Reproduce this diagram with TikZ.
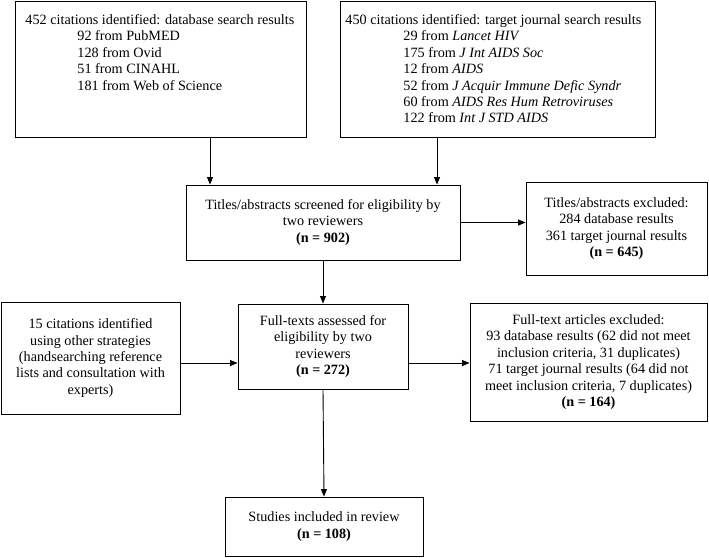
\documentclass[tikz,border=0pt]{standalone}
\usepackage{fontspec}
\setmainfont{Liberation Serif}
\usetikzlibrary{arrows.meta,positioning}

\begin{document}
\begin{tikzpicture}
        [x=1pt,y=1pt,line width=0.9pt,>={Triangle[length=7.5pt,width=6pt]}]
        \tikzstyle{every node}=[font=\fontsize{14.2}{16.4}\selectfont]
        \tikzstyle{box}=[draw, rectangle, inner sep=0pt, align=center]
        \tikzstyle{txt}=[anchor=north west, align=left, inner sep=0pt]
        \useasboundingbox (0,0) rectangle (709,-557);
        %-----search results
         \node[box, anchor=north west, minimum width=291, minimum height=136] (DB) at (15,-1) {};
         \node[txt] (DBtxt) at (25,-14) {452 citations identified: database search results\\
            \hspace*{52pt}92 from PubMED\\
            \hspace*{52pt}128 from Ovid\\
            \hspace*{52pt}51 from CINAHL\\
            \hspace*{52pt}181 from Web of Science};
         \node[box, anchor=north west, minimum width=315, minimum height=136] (TJ) at (340,-1) {};
         \node[txt] (TJtxt) at (345,-14) {450 citations identified: target journal search results\\
            \hspace*{58pt}29 from \textit{Lancet HIV}\\
            \hspace*{58pt}175 from \textit{J Int AIDS Soc}\\
            \hspace*{58pt}12 from \textit{AIDS}\\
            \hspace*{58pt}52 from \textit{J Acquir Immune Defic Syndr}\\
            \hspace*{58pt}60 from \textit{AIDS Res Hum Retroviruses}\\
            \hspace*{58pt}122 from \textit{Int J STD AIDS}};
        %-----screening
         \node[box, minimum width=274, minimum height=75] (Scr) at (323,-222.5)
            {Titles/abstracts screened for eligibility by\\ two reviewers\\ \textbf{(n = 902)}};
         \node[box, minimum width=181, minimum height=93] (Ex1) at (616.5,-228.5)
            {Titles/abstracts excluded:\\ 284 database results\\ 361 target journal results\\ \textbf{(n = 645)}};
        %-----eligibility
         \node[box, minimum width=179, minimum height=112] (Oth) at (90.5,-358)
            {15 citations identified\\ using other strategies\\ (handsearching reference\\ lists and consultation with\\ experts)};
         \node[box, minimum width=170, minimum height=85] (Full) at (323,-346.5)
            {Full-texts assessed for\\ eligibility by two\\ reviewers\\ \textbf{(n = 272)}};
         \node[box, minimum width=237, minimum height=118] (Ex2) at (588.5,-362)
            {Full-text articles excluded:\\ 93 database results (62 did not meet\\ inclusion criteria, 31 duplicates)\\
             71 target journal results (64 did not\\ meet inclusion criteria, 7 duplicates)\\ \textbf{(n = 164)}};
        %-----included
         \node[box, minimum width=198, minimum height=59] (Inc) at (324,-526.5)
            {Studies included in review\\ \textbf{(n = 108)}};

         \coordinate (a1) at (210,0);
         \coordinate (a2) at (437,0);
         \coordinate (mid) at (0,-363);

          \draw[->] (DB.south -| a1) -- (Scr.north -| a1);
          \draw[->] (TJ.south -| a2) -- (Scr.north -| a2);
          \draw[->] (Scr.east) -- (Scr.east -| Ex1.west);
          \draw[->] (Oth.east |- mid) -- (Full.west |- mid);
          \draw[->] (Full.east |- mid) -- (Ex2.west |- mid);

         \foreach \from/\to in {Scr/Full, Full/Inc}
         \draw[->] (\from.south) -- (\to.north);

\end{tikzpicture}
\end{document}
